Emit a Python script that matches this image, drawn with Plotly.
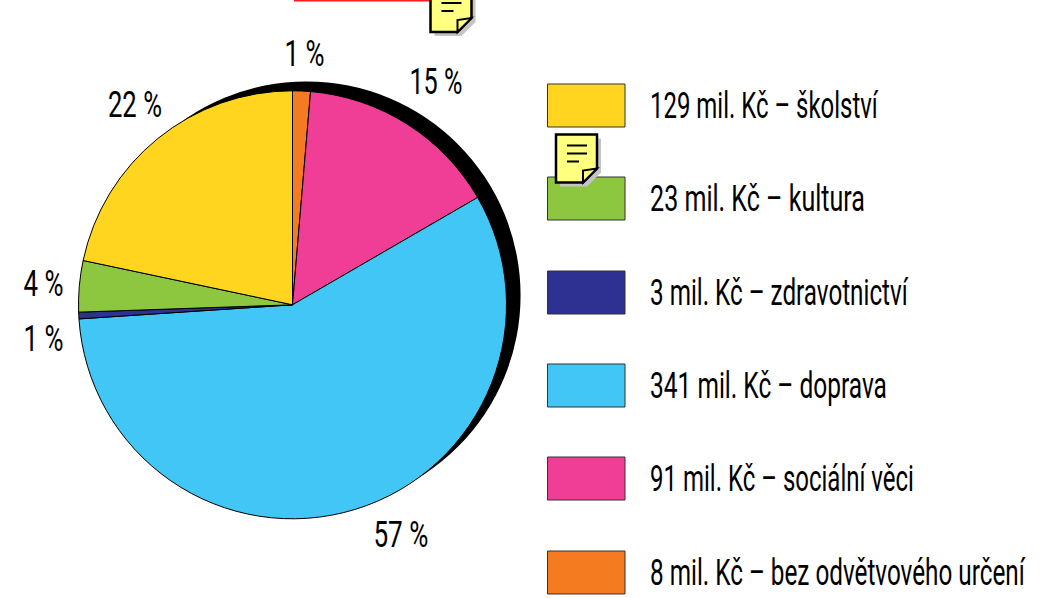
import json
import plotly.graph_objects as go

W, H = 1046, 598
FONT = "Roboto, Liberation Sans, sans-serif"

# data, clockwise from 12 o'clock
categories = ["bez odvětvového určení", "sociální věci", "doprava", "zdravotnictví", "kultura", "školství"]
values = [8, 91, 341, 3, 23, 129]
colors = ["#F57B20", "#F03E96", "#41C6F5", "#2E3192", "#8DC63F", "#FFD520"]
pct_labels = ["1 %", "15 %", "57 %", "1 %", "4 %", "22 %"]

# legend order (top to bottom)
legend_text = ["129 mil. Kč – školství", "23 mil. Kč – kultura", "3 mil. Kč – zdravotnictví",
               "341 mil. Kč – doprava", "91 mil. Kč – sociální věci", "8 mil. Kč – bez odvětvového určení"]
legend_colors = ["#FFD520", "#8DC63F", "#2E3192", "#41C6F5", "#F03E96", "#F57B20"]

def px(x): return x / W
def py(y): return 1 - y / H

def dom(cx, cy, r):
    return dict(x=[px(cx - r), px(cx + r)], y=[py(cy + r), py(cy - r)])

fig = go.Figure()
fig.add_trace(go.Pie(values=[1], marker=dict(colors=["#000000"], line=dict(width=0)), textinfo="none",
                     domain=dom(306.5, 295.5, 214), sort=False, hoverinfo="skip", showlegend=False))
fig.add_trace(go.Pie(values=values, labels=categories, marker=dict(colors=colors, line=dict(color="#000000", width=1)),
                     textinfo="none", direction="clockwise", rotation=0, sort=False,
                     domain=dom(292.5, 304.8, 214), showlegend=False))

shapes = []
annotations = []

pct_pos = [(304, 54), (435.5, 81), (400.5, 534), (43, 338), (43, 283), (135, 104)]
for t, (x, y) in zip(pct_labels, pct_pos):
    annotations.append(dict(text=t, x=px(x), y=py(y), xref="paper", yref="paper", showarrow=False,
                            xanchor="center", yanchor="middle",
                            font=dict(family=FONT, size=37, color="#000")))

legend_top = [84, 177, 271, 364, 457, 551]
for t, c, y in zip(legend_text, legend_colors, legend_top):
    shapes.append(dict(type="rect", xref="paper", yref="paper", x0=px(547.5), x1=px(625), y0=py(y), y1=py(y + 43),
                       fillcolor=c, line=dict(color="#333333", width=1)))
    annotations.append(dict(text=t, x=px(647.5), y=py(y + 21), xref="paper", yref="paper", showarrow=False,
                            xanchor="left", yanchor="middle",
                            font=dict(family=FONT, size=37, color="#000")))

# red rule at top
shapes.append(dict(type="line", xref="paper", yref="paper", x0=px(294), x1=px(441), y0=py(0.5), y1=py(0.5),
                   line=dict(color="#FF1A1A", width=2)))

def path(pts, close=True):
    s = "M " + " L ".join(f"{px(x):.5f},{py(y):.5f}" for x, y in pts)
    return s + (" Z" if close else "")

def note(l, t):
    body = [(l, t), (l + 41, t), (l + 41, t + 34), (l + 27, t + 48), (l, t + 48)]
    shapes.append(dict(type="path", xref="paper", yref="paper", path=path([(x + 4, y + 4) for x, y in body]),
                       fillcolor="#C4C4C4", line=dict(width=0)))
    shapes.append(dict(type="path", xref="paper", yref="paper", path=path(body),
                       fillcolor="#FFFF80", line=dict(color="#000", width=2.5)))
    shapes.append(dict(type="path", xref="paper", yref="paper",
                       path=path([(l + 41, t + 34), (l + 27, t + 36), (l + 27, t + 48)]),
                       fillcolor="#FFFF80", line=dict(color="#000", width=2)))
    for dy, x1 in [(11, 31), (19, 31), (27, 23)]:
        shapes.append(dict(type="line", xref="paper", yref="paper", x0=px(l + 11), x1=px(l + x1),
                           y0=py(t + dy), y1=py(t + dy), line=dict(color="#000", width=2)))

note(430.5, -16)
note(556, 134.5)

fig.update_layout(width=W, height=H, margin=dict(l=0, r=0, t=0, b=0), paper_bgcolor="#fff",
                  shapes=shapes, annotations=annotations, showlegend=False)

# The reference type is a condensed face that is not installed: squeeze the real text horizontally.
legend_widths = [229, 215, 259, 237, 264, 376]
pct_width = {"1 %": 40, "4 %": 40, "15 %": 53, "22 %": 54, "57 %": 55}
targets = dict(zip(legend_text, legend_widths))
targets.update(pct_width)
SQUEEZE = """
document.body.style.margin='0';document.body.style.overflow='hidden';
var TARGETS=%s;
document.querySelectorAll('.annotation-text').forEach(function(t){
  var b=t.getBBox(); var s=t.textContent; var left=s.indexOf('mil')>=0;
  var ox=left? b.x : b.x+b.width/2; var k=TARGETS[s]/b.width;
  t.setAttribute('transform','translate('+ox+',0) scale('+k+',1) translate('+(-ox)+',0)');
});
""" % json.dumps(targets, ensure_ascii=False)
fig.write_html("out.html", config=dict(displayModeBar=False), post_script=SQUEEZE)
